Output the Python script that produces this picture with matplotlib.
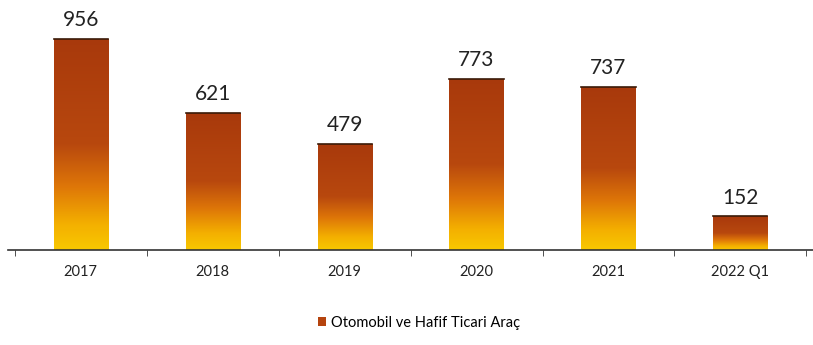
import numpy as np
import matplotlib
matplotlib.use("Agg")
import matplotlib.pyplot as plt
from matplotlib.colors import LinearSegmentedColormap
from matplotlib.patches import Patch

categories = ["2017", "2018", "2019", "2020", "2021", "2022 Q1"]
values = [956, 621, 479, 773, 737, 152]
series_name = "Otomobil ve Hafif Ticari Araç"

plt.rcParams['font.family'] = ['Lato', 'DejaVu Sans']

fig = plt.figure(figsize=(8.13, 3.45), dpi=100)
ax = fig.add_axes([0.01, 0.275, 0.99, 0.725])

x = np.arange(len(categories))
bars = ax.bar(x, values, width=0.41, color='none', edgecolor='none', zorder=2)

cmap = LinearSegmentedColormap.from_list(
    "grad",
    [(0.0, "#F8C800"), (0.12, "#F4B000"), (0.3, "#DE7608"), (0.5, "#B8480E"), (1.0, "#A8390C")])
grad = np.linspace(0, 1, 256).reshape(-1, 1)
for b in bars:
    x0, y0 = b.get_x(), b.get_y()
    w, h = b.get_width(), b.get_height()
    im = ax.imshow(grad, extent=[x0, x0 + w, y0, y0 + h], origin='lower',
                   cmap=cmap, aspect='auto', zorder=2)
    im.set_clip_path(b)
    ax.plot([x0, x0 + w], [y0 + h, y0 + h], color='#3a1a08', lw=1.2, zorder=3)

for xi, v in zip(x, values):
    ax.text(xi, v + 40, str(v), ha='center', va='bottom', fontsize=15, color='#222222')

ax.set_xlim(-0.55, len(categories) - 0.45)
ax.set_ylim(0, 1130)
ax.set_yticks([])
ax.set_xticks(x)
ax.set_xticklabels(categories, fontsize=10.5, color='#222222')
ax.set_xticks(np.arange(-0.5, len(categories), 1), minor=True)
ax.tick_params(axis='x', which='major', length=0, pad=11)
ax.tick_params(axis='x', which='minor', length=4, color='#333333', direction='out')
for s in ['top', 'right', 'left']:
    ax.spines[s].set_visible(False)
ax.spines['bottom'].set_color('#333333')
ax.spines['bottom'].set_linewidth(1.2)

fig.legend(handles=[Patch(facecolor='#B5440E', edgecolor='none')], labels=[series_name],
           loc='center', bbox_to_anchor=(0.515, 0.065), frameon=False, fontsize=10.5,
           handlelength=0.6, handleheight=0.6, handletextpad=0.3)

fig.savefig("out.png", dpi=100, facecolor='white')
